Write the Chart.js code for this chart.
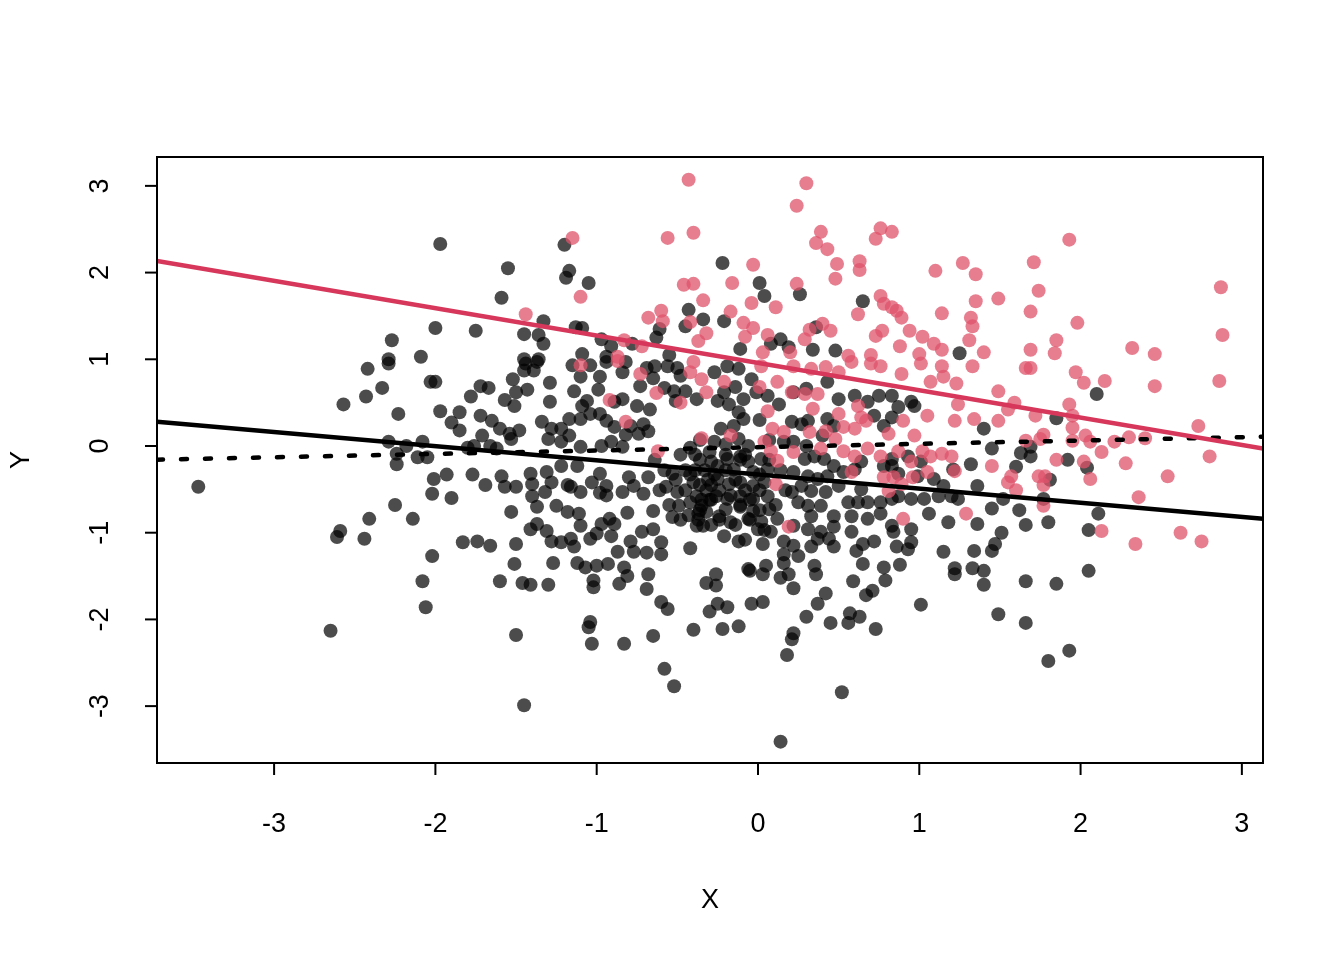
<!DOCTYPE html>
<html>
<head>
<meta charset="utf-8">
<script src="https://cdn.jsdelivr.net/npm/chart.js@4.4.1/dist/chart.umd.min.js"></script>
<style>
  html, body { margin: 0; padding: 0; background: #ffffff; }
  canvas { display: block; }
</style>
</head>
<body>
<canvas id="c" width="1344" height="960"></canvas>
<script>
// ---- data ----
const xRange = [-3.726, 3.131];
const yRange = [-3.656, 3.333];
const xTicks = [-3, -2, -1, 0, 1, 2, 3];
const yTicks = [-3, -2, -1, 0, 1, 2, 3];
const xTitle = "X";
const yTitle = "Y";

// fitted lines: values at left and right edge of the plot region
const lineX = [-3.726, 3.131];
const redLineY = [2.134, -0.03];
const blackLineY = [0.28, -0.84];
const dottedLineY = [-0.158, 0.107];

const blackPoints = [
[-0.22,2.11],[0.01,1.88],[0.04,1.73],[0.26,1.75],[0.65,1.67],[-0.21,1.44],[0.36,1.37],[-0.11,1.12],[0.14,1.23],[0.19,1.14],[0.08,1.18],[0.34,1.11],[0.48,1.10],[1.25,1.07],
[-1.97,2.33],[-1.20,2.32],[-1.17,2.02],[-1.19,1.94],[-1.05,1.88],[-1.55,2.05],[-1.59,1.71],[-2.00,1.36],[-1.75,1.33],[-1.33,1.44],[-1.45,1.29],[-1.36,1.28],[-1.33,1.18],[-1.13,1.37],[-1.09,1.36],[-0.97,1.23],[-0.91,1.15],[-0.78,1.18],[-0.43,1.57],[-0.34,1.46],[-0.45,1.38],[-0.61,1.35],[-0.63,1.25],[-0.55,1.05],[-1.09,1.06],[-1.36,1.00],[-1.45,1.00],[-0.94,1.03],
[-2.27,1.22],[-2.29,1.00],[-2.09,1.03],
[-2.42,0.89],[-2.29,0.95],[-2.03,0.74],[-2.57,0.48],[-2.43,0.57],[-2.33,0.67],[-2.23,0.37],[-2.29,0.05],[-2.18,0.00],[-2.08,0.05],[-2.24,-0.09],[-2.24,-0.21],[-2.11,-0.13],[-2.05,-0.13],[-2.01,-0.38],[-2.02,-0.55],[-3.47,-0.47],[-2.25,-0.68],[-2.41,-0.84],[-2.14,-0.84],[-2.59,-0.98],[-2.61,-1.05],[-2.44,-1.07],[-2.02,-1.27],
[-2.08,-1.56],[-2.06,-1.86],[-2.65,-2.13],
[-1.51,-1.36],[-1.60,-1.56],[-1.46,-1.58],[-1.41,-1.60],[-1.30,-1.60],[-1.27,-1.35],[-1.12,-1.35],[-1.07,-1.40],[-1.00,-1.38],[-0.93,-1.36],[-0.83,-1.40],[-0.81,-1.50],[-0.86,-1.59],[-1.02,-1.55],[-1.02,-1.63],[-0.68,-1.48],[-0.69,-1.65],[-0.60,-1.80],[-0.56,-1.88],[-0.32,-1.58],[-0.30,-1.91],[-1.04,-2.03],[-1.05,-2.09],[-1.03,-2.28],[-0.83,-2.28],[-0.65,-2.19],[-0.40,-2.12],[-1.50,-2.18],[-0.58,-2.57],[-0.52,-2.77],[-1.45,-2.99],
[-0.26,-1.48],[-0.26,-1.61],[-0.25,-1.82],[-0.19,-1.86],[-0.22,-2.11],[-0.12,-2.08],[-0.05,-1.44],[-0.06,-1.42],[0.03,-1.48],[0.05,-1.38],[0.14,-1.52],[0.19,-1.48],[0.22,-1.64],[0.16,-1.35],[-0.04,-1.82],[0.03,-1.80],[0.22,-2.16],[0.21,-2.23],[0.18,-2.41],[0.30,-1.97],[0.37,-1.82],[0.42,-1.70],[0.35,-1.38],[0.36,-1.48],[0.45,-2.04],[0.57,-1.93],[0.63,-1.97],[0.56,-2.04],[0.59,-1.56],[0.67,-1.72],[0.71,-1.67],[0.79,-1.55],[0.78,-1.40],[0.88,-1.37],[0.65,-1.36],[0.73,-2.11],[1.01,-1.83],[1.22,-1.41],[1.22,-1.48],[1.33,-1.41],[1.40,-1.44],[1.40,-1.60],[0.52,-2.84],[0.14,-3.41],
[2.05,-1.44],[1.85,-1.59],[1.66,-1.56],[1.49,-1.94],[1.66,-2.04],[1.93,-2.36],[1.80,-2.48],
[2.10,0.60],[1.85,0.32],[1.45,-0.03],[1.63,-0.08],[1.69,-0.01],[1.69,-0.12],[1.60,-0.24],[1.92,-0.16],[2.04,-0.25],[1.81,-0.39],[1.77,-0.61],[1.52,-0.61],[1.45,-0.72],[1.62,-0.74],[1.66,-0.91],[1.80,-0.88],[2.11,-0.78],[2.05,-0.97],[1.51,-1.00],[1.47,-1.13],[1.45,-1.21],
[-1.44,0.95],[-1.39,0.87],[-1.45,0.87],[-1.37,0.97],[-2.00,0.74],[-1.72,0.69],[-1.67,0.67],[-1.78,0.57],[-1.52,0.77],[-1.50,0.62],[-1.43,0.65],[-1.57,0.53],[-1.51,0.46],[-1.29,0.73],[-1.29,0.51],[-1.97,0.40],[-1.85,0.39],[-1.90,0.27],[-1.85,0.18],[-1.72,0.35],[-1.65,0.29],[-1.60,0.20],[-1.54,0.14],[-1.48,0.18],[-1.53,0.08],[-1.71,0.12],[-1.76,0.00],[-1.80,-0.02],[-1.62,-0.03],[-1.66,0.00],[-1.34,0.28],[-1.28,0.20],[-1.22,0.20],[-1.17,0.12],[-1.30,0.08],[-1.22,0.05],[-1.15,0.93],[-1.10,0.80],[-1.14,0.63],[-1.04,0.93],[-0.98,0.80],[-0.99,0.65],[-1.06,0.52],[-1.09,0.46],[-1.17,0.31],[-1.10,0.31],[-1.04,0.37],[-0.98,0.37],[-0.94,0.29],[-0.89,0.22],[-0.94,0.97],[-0.82,0.97],[-0.84,0.85],[-0.84,0.54],[-0.89,0.51],[-0.73,0.69],[-0.69,0.90],[-0.64,0.92],[-0.56,0.92],[-0.50,0.90],[-0.48,0.81],[-0.65,0.78],[-0.58,0.67],[-0.52,0.63],[-0.45,0.63],[-0.51,0.52],[-0.38,0.54],[-0.75,0.46],[-0.67,0.42],[-0.71,0.25],[-0.68,0.17],[-0.74,0.14],[-0.79,0.23],[-0.82,0.13],[-0.91,0.05],[-0.84,-0.01],[-0.97,0.00],[-1.10,-0.01],
[-1.93,-0.33],[-1.90,-0.60],[-1.77,-0.33],[-1.69,-0.45],[-1.59,-0.35],[-1.57,-0.47],[-1.50,-0.47],[-1.41,-0.32],[-1.40,-0.44],[-1.40,-0.58],[-1.37,-0.70],[-1.53,-0.76],[-1.31,-0.30],[-1.28,-0.42],[-1.25,-0.69],[-1.32,-0.53],[-1.22,-0.23],[-1.18,-0.45],[-1.18,-0.76],[-1.11,-0.78],[-1.16,-0.47],[-1.12,-0.23],[-1.10,-0.53],[-1.03,-0.42],[-0.98,-0.54],[-0.94,-0.57],[-0.94,-0.46],[-0.98,-0.32],[-0.84,-0.53],[-0.80,-0.36],[-0.77,-0.46],[-0.71,-0.55],[-0.68,-0.36],[-0.57,-0.47],[-0.53,-0.32],[-0.50,-0.53],[-0.49,-0.69],[-0.65,-0.75],[-0.81,-0.77],[-0.53,-0.82],[-0.40,-0.42],[-0.38,-0.58],[-0.35,-0.69],[-0.37,-0.78],[-0.34,-0.92],[-0.38,-0.92],[-0.92,-0.84],[-0.89,-0.90],[-0.97,-0.90],[-1.00,-1.01],[-0.91,-1.04],[-0.79,-1.10],[-0.72,-0.99],[-0.65,-0.96],[-0.60,-1.11],[-1.04,-1.07],[-1.10,-0.92],[-1.16,-1.07],[-1.14,-1.16],[-1.22,-1.11],[-1.28,-1.10],[-1.37,-0.90],[-1.41,-0.96],[-1.31,-0.98],[-1.50,-1.13],[-1.66,-1.15],[-1.74,-1.10],[-1.83,-1.11],[-0.77,-1.22],[-0.87,-1.22],[-0.42,-1.18],[-0.69,-1.23],[-0.60,-1.25],
[-0.27,0.85],[-0.19,0.92],[-0.12,0.89],[-0.14,0.68],[-0.21,0.62],[-0.25,0.52],[-0.18,0.48],[-0.09,0.54],[-0.04,0.77],[-0.01,0.62],[0.06,0.58],[-0.12,0.39],[-0.09,0.31],[-0.15,0.23],[-0.23,0.20],[-0.27,0.05],[-0.20,0.02],[-0.12,0.08],[-0.06,0.00],[-0.11,-0.12],[-0.19,-0.15],[-0.25,-0.23],[-0.15,-0.27],[-0.06,-0.18],[0.02,-0.15],[-0.03,-0.30],[0.06,-0.27],[-0.25,-0.38],[-0.18,-0.44],[-0.11,-0.42],[-0.03,-0.46],[0.04,-0.42],[-0.26,-0.58],[-0.19,-0.61],[-0.11,-0.58],[-0.03,-0.61],[0.06,-0.58],[-0.20,-0.73],[-0.11,-0.70],[-0.03,-0.75],[0.07,-0.73],[-0.24,-0.81],[-0.17,-0.88],[-0.06,-0.84],[0.02,-0.87],[0.12,-0.84],[-0.21,-1.04],[-0.12,-1.10],[0.00,-0.96],[0.08,-0.99],[0.16,-1.10],[0.03,-1.13],[0.16,-1.25],[0.25,-0.65],[0.21,-0.53],[0.27,-0.46],[0.31,-0.35],[0.22,-0.30],[0.29,-0.15],[0.22,0.05],[0.16,0.05],[0.21,0.28],[0.27,0.25],[0.31,0.29],[0.43,0.31],[0.47,0.23],[0.40,0.12],[0.30,0.00],[0.35,-0.12],[0.41,-0.15],[0.47,-0.23],[0.43,-0.35],[0.37,-0.38],[0.53,-0.30],[0.50,-0.46],[0.42,-0.53],[0.33,-0.52],[0.31,-0.69],[0.39,-0.69],[0.47,-0.81],[0.33,-0.81],[0.22,-0.92],[0.31,-0.96],[0.39,-0.99],[0.47,-0.93],[0.37,-1.07],[0.44,-1.07],[0.33,-1.16],[0.47,-1.16],[0.22,-1.15],[0.25,-1.27],[0.13,0.48],[0.22,0.62],[0.30,0.66],[0.43,0.74],[0.50,0.54],[0.60,0.58],[0.68,0.51],[0.72,0.35],[0.78,0.23],[0.83,0.33],[0.87,0.45],[0.75,0.58],[0.83,0.58],[0.95,0.51],[0.97,0.46],[0.83,-0.15],[0.78,-0.23],[0.83,-0.23],[0.87,-0.32],[0.93,-0.12],[1.01,-0.18],[0.99,-0.35],[1.09,-0.38],[1.15,-0.46],[1.21,-0.27],[1.32,-0.21],[1.36,-0.46],[1.40,0.20],[0.60,-0.27],[0.64,-0.18],[0.64,-0.50],[0.56,-0.65],[0.62,-0.65],[0.68,-0.65],[0.76,-0.65],[0.83,-0.61],[0.87,-0.58],[0.95,-0.61],[1.03,-0.61],[1.12,-0.58],[1.20,-0.58],[1.24,-0.61],[0.58,-0.81],[0.68,-0.84],[0.76,-0.78],[0.83,-0.92],[0.84,-0.99],[0.95,-0.96],[1.06,-0.78],[1.18,-0.88],[1.36,-0.90],[0.58,-0.99],[0.65,-1.13],[0.72,-1.10],[0.95,-1.11],[0.93,-1.19],[0.61,-1.21],[1.15,-1.22],[1.34,-1.21],[0.86,-1.16],
[-0.33,-0.28],[-0.31,-0.39],[-0.36,-0.16],[-0.39,-0.28],[-0.32,-0.51],[-0.35,-0.62],[-0.32,-0.76],[-0.42,-0.65],[-0.43,-0.80],[-0.37,-0.85],[-0.45,-0.28],[-0.48,-0.10],[-0.42,-0.02],[-0.36,0.07],[-0.30,-0.07],[-0.29,-0.45],[-0.29,-0.62],[-0.29,-0.91],[0.01,0.30],[0.07,0.07],[-0.08,-0.10],[0.14,-0.28],[0.17,-0.51],[0.11,-0.68],[0.01,-0.51],
[-0.42,-0.33],[-0.36,-0.45],[-0.27,-0.33],[-0.20,-0.28],[-0.14,-0.39],[-0.08,-0.51],[-0.05,-0.62],[-0.11,-0.68],[-0.17,-0.57],[-0.24,-0.51],[-0.30,-0.62],[-0.36,-0.74],[-0.24,-0.85],[-0.14,-0.91],[-0.05,-0.85],[0.01,-0.33],[0.07,-0.16],[-0.11,-0.16],[-0.20,-0.10],[-0.29,-0.18],[-0.39,-0.10],[-0.45,-0.51],[-0.51,-0.39],[-0.58,-0.28],[-0.64,-0.16],[-0.61,-0.51],[-0.55,-0.68],[-0.48,-0.85],[0.01,-0.74],[0.04,-0.97],[-0.08,-1.08]
];

const redPoints = [
[0.30,3.03],[0.24,2.77],[0.39,2.47],[0.36,2.34],[0.43,2.27],[0.49,2.10],[0.48,1.93],[0.63,2.13],[0.63,2.03],[0.76,2.51],[0.73,2.39],[0.83,2.47],[1.10,2.02],[1.27,2.11],[1.35,1.98],[1.35,1.67],[1.32,1.48],[1.33,1.38],[1.31,1.22],[1.14,1.53],[0.62,1.52],[0.76,1.73],[0.78,1.64],[0.83,1.60],[0.86,1.56],[0.89,1.48],[0.94,1.33],[1.02,1.26],[1.09,1.18],[1.14,1.11],[0.88,1.15],[0.77,1.33],[0.73,1.27],[0.70,1.05],[0.56,1.04],[0.45,1.33],[0.40,1.41],[0.32,1.34],[0.29,1.23],[0.24,1.87],[-0.03,2.09],[-0.16,1.88],[-0.04,1.65],[0.11,1.60],[-0.17,1.55],[-0.09,1.42],[-0.03,1.36],[-0.08,1.26],[0.06,1.28],[0.03,1.08],[0.20,1.08],[1.00,1.06],[1.40,1.08],
[-0.43,3.07],[-0.56,2.40],[-0.40,2.46],[-1.15,2.40],[-1.10,1.72],[-1.44,1.52],[-0.68,1.48],[-0.60,1.56],[-0.59,1.44],[-0.46,1.86],[-0.40,1.87],[-0.34,1.68],[-0.42,1.43],[-0.32,1.30],[-0.37,1.21],[-0.83,1.22],[-0.72,1.15],[-0.87,1.03],
[1.93,2.38],[1.71,2.12],[1.74,1.79],[1.49,1.70],[1.69,1.55],[1.98,1.42],[1.85,1.22],[1.69,1.11],[1.84,1.07],[2.32,1.13],[2.46,1.06],[2.87,1.83],[2.88,1.28],
[1.69,0.90],[1.66,0.90],[1.97,0.85],[2.02,0.73],[2.15,0.75],[2.46,0.69],[2.86,0.75],[1.49,0.63],[1.59,0.50],[1.55,0.42],[1.49,0.29],[1.72,0.35],[1.93,0.48],[1.95,0.35],[1.95,0.21],[1.77,0.13],[1.75,0.08],[1.66,0.06],[1.95,0.06],[2.03,0.12],[2.06,0.05],[2.21,0.05],[2.30,0.10],[2.40,0.09],[2.73,0.23],[2.80,-0.12],[2.13,-0.07],[2.28,-0.20],[1.85,-0.16],[2.02,-0.18],[2.06,-0.38],[1.45,-0.23],[1.57,-0.35],[1.55,-0.42],[1.60,-0.51],[1.74,-0.35],[1.78,-0.35],[1.77,-0.45],[1.77,-0.69],[2.54,-0.35],[2.36,-0.59],[2.13,-0.98],[2.34,-1.13],[2.62,-1.00],[2.75,-1.10],
[-1.10,0.93],[-0.87,0.98],[-0.73,0.83],[-0.63,0.61],[-0.92,0.53],[-0.82,0.28],[-0.48,0.50],[-0.42,0.85],[-0.35,0.77],[-0.40,0.97],[-0.32,0.62],[-0.35,0.09],[-0.62,-0.06],
[-0.21,0.74],[0.01,0.68],[0.12,0.74],[0.21,0.62],[0.29,0.60],[0.37,0.60],[0.06,0.40],[0.02,0.92],[0.22,0.92],[0.33,0.89],[0.42,0.91],[0.50,0.85],[0.58,0.97],[0.70,0.95],[0.76,0.92],[0.89,0.83],[1.01,0.95],[1.14,0.92],[1.15,0.80],[1.07,0.74],[1.23,0.72],[1.33,0.92],[1.24,0.48],[1.05,0.35],[1.22,0.29],[1.34,0.31],[0.34,0.43],[0.50,0.37],[0.62,0.46],[0.64,0.33],[0.53,0.22],[0.60,0.20],[0.67,0.29],[0.90,0.29],[0.81,0.14],[0.09,0.20],[0.16,0.16],[0.32,0.16],[0.42,0.17],[0.48,0.08],[0.04,0.05],[0.08,-0.06],[0.12,-0.17],[0.22,-0.07],[0.39,-0.03],[0.53,-0.06],[0.60,-0.12],[0.68,-0.03],[0.76,-0.12],[0.87,-0.06],[0.97,0.12],[1.02,-0.06],[1.07,-0.12],[1.14,-0.09],[1.20,-0.12],[0.95,-0.18],[1.05,-0.30],[1.22,-0.29],[0.58,-0.30],[0.78,-0.36],[0.84,-0.36],[0.89,-0.44],[0.96,-0.36],[0.11,-0.44],[1.29,-0.78],[0.90,-0.84],[0.19,-0.93],[0.81,-0.52],[-0.17,0.12]
];

// ---- styles ----
const FONT = '"Liberation Sans", Arial, Helvetica, sans-serif';
const blackFill = 'rgba(0,0,0,0.7)';
const redFill = 'rgba(223,83,107,0.75)';
const redLine = 'rgb(214,55,90)';

const toXY = arr => arr.map(p => ({ x: p[0], y: p[1] }));
const lineData = ys => lineX.map((x, i) => ({ x: x, y: ys[i] }));

const rAxes = {
  id: 'rAxes',
  afterDraw(chart) {
    const ctx = chart.ctx;
    const a = chart.chartArea;
    const xs = chart.scales.x, ys = chart.scales.y;
    ctx.save();
    ctx.strokeStyle = '#000';
    ctx.lineWidth = 2;
    ctx.strokeRect(a.left, a.top, a.right - a.left, a.bottom - a.top);
    ctx.fillStyle = '#000';
    ctx.font = '27px ' + FONT;
    // x ticks
    ctx.textAlign = 'center';
    ctx.textBaseline = 'middle';
    xTicks.forEach(v => {
      const px = xs.getPixelForValue(v);
      ctx.beginPath();
      ctx.moveTo(px, a.bottom);
      ctx.lineTo(px, a.bottom + 12);
      ctx.stroke();
      ctx.fillText(String(v), px, 825);
    });
    // y ticks
    yTicks.forEach(v => {
      const py = ys.getPixelForValue(v);
      ctx.beginPath();
      ctx.moveTo(a.left, py);
      ctx.lineTo(a.left - 12, py);
      ctx.stroke();
      ctx.save();
      ctx.translate(101, py);
      ctx.rotate(-Math.PI / 2);
      ctx.fillText(String(v), 0, 0);
      ctx.restore();
    });
    // titles
    ctx.fillText(xTitle, (a.left + a.right) / 2, 901);
    ctx.save();
    ctx.translate(22, (a.top + a.bottom) / 2);
    ctx.rotate(-Math.PI / 2);
    ctx.fillText(yTitle, 0, 0);
    ctx.restore();
    ctx.restore();
  }
};

new Chart(document.getElementById('c'), {
  type: 'scatter',
  data: {
    datasets: [
      { data: lineData(redLineY), showLine: true, borderColor: redLine, borderWidth: 4.5,
        pointRadius: 0, clip: 0, order: 0, borderCapStyle: 'butt' },
      { data: lineData(blackLineY), showLine: true, borderColor: '#000', borderWidth: 4.5,
        pointRadius: 0, clip: 0, order: 0, borderCapStyle: 'butt' },
      { data: lineData(dottedLineY), showLine: true, borderColor: '#000', borderWidth: 4.5,
        borderDash: [6, 18], borderCapStyle: 'round', pointRadius: 0, clip: 0, order: 0 },
      { data: toXY(redPoints), backgroundColor: redFill, borderWidth: 0, pointRadius: 7,
        pointHoverRadius: 7, clip: 0, order: 1 },
      { data: toXY(blackPoints), backgroundColor: blackFill, borderWidth: 0, pointRadius: 7,
        pointHoverRadius: 7, clip: 0, order: 2 }
    ]
  },
  options: {
    responsive: false,
    animation: false,
    devicePixelRatio: 1,
    events: [],
    layout: { padding: { left: 157, right: 81, top: 157, bottom: 197 } },
    plugins: { legend: { display: false }, tooltip: { enabled: false } },
    scales: {
      x: { type: 'linear', display: false, min: xRange[0], max: xRange[1] },
      y: { type: 'linear', display: false, min: yRange[0], max: yRange[1] }
    }
  },
  plugins: [rAxes]
});
</script>
</body>
</html>
